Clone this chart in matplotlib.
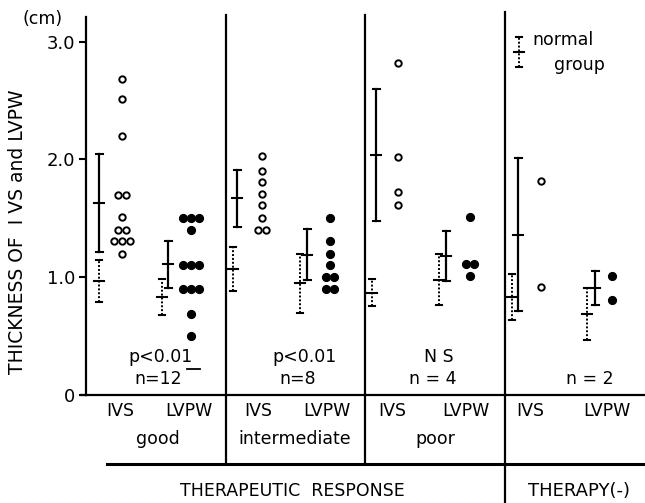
import numpy as np
import matplotlib
matplotlib.use("Agg")
from matplotlib import pyplot as plt

plt.rcParams['font.family'] = ['DejaVu Sans']

# individual patient values (cm)
good_ivs = [2.68, 2.51, 2.20, 1.70, 1.70, 1.51, 1.40, 1.40, 1.31, 1.31, 1.31, 1.20]
good_lvpw = [1.50, 1.50, 1.50, 1.40, 1.10, 1.10, 1.10, 0.90, 0.90, 0.90, 0.69, 0.50]
inter_ivs = [2.03, 1.90, 1.81, 1.71, 1.61, 1.50, 1.40, 1.40]
inter_lvpw = [1.50, 1.31, 1.20, 1.10, 1.00, 1.00, 0.90, 0.90]
poor_ivs = [2.82, 2.02, 1.72, 1.61]
poor_lvpw = [1.51, 1.11, 1.11, 1.01]
none_ivs = [1.82, 0.92]
none_lvpw = [1.01, 0.81]

# mean and SD, solid bars (patient group)
solid_mean = [1.63, 1.11, 1.67, 1.19, 2.04, 1.18, 1.36, 0.91]
solid_sd = [0.42, 0.20, 0.24, 0.215, 0.56, 0.215, 0.65, 0.145]
# mean and SD, dotted bars
dotted_mean = [0.97, 0.83, 1.07, 0.95, 0.87, 0.98, 0.835, 0.69]
dotted_sd = [0.18, 0.155, 0.19, 0.25, 0.115, 0.215, 0.195, 0.22]
normal_mean = 2.91
normal_sd = 0.125

groups = ['good', 'intermediate', 'poor', '']
p_text = ['p<0.01', 'p<0.01', 'N S', '']
n_text = ['n=12', 'n=8', 'n = 4', 'n = 2']

PX = 117.8  # pixels per cm on the reference


def yv(p):
    # vertical pixel of the reference -> value
    return (395 - p) / PX


fig = plt.figure(figsize=(6.45, 5.03), dpi=100)
ax = fig.add_axes([86 / 645, 108 / 503, 559 / 645, 378 / 503])
ax.set_xlim(86, 645)
ax.set_ylim(0, yv(17))
for s in ['top', 'right']:
    ax.spines[s].set_visible(False)
for s in ['left', 'bottom']:
    ax.spines[s].set_linewidth(1.6)
ax.set_xticks([])
ax.set_yticks([0, 1, 2, 3])
ax.set_yticklabels(['0', '1.0', '2.0', '3.0'], fontsize=13)
ax.tick_params(axis='y', length=5, width=1.5, pad=3)

# x positions (layout)
solid_x = [99, 168, 237, 307, 376, 446, 518, 595]
dotted_x = [99, 162, 233, 300, 372, 439, 512, 587]
pts_x = [122, 191, 262, 330, 398, 470, 541, 612]
points = [good_ivs, good_lvpw, inter_ivs, inter_lvpw, poor_ivs, poor_lvpw, none_ivs, none_lvpw]


def spread(vals, cx, step=7.7):
    xs = []
    vals = list(vals)
    for i, v in enumerate(vals):
        same = [j for j, w in enumerate(vals) if w == v]
        k = len(same)
        xs.append(cx + (same.index(i) - (k - 1) / 2) * step)
    return xs


def bar(x, m, sd, dotted=False):
    ls = (0, (1.0, 1.0)) if dotted else '-'
    lw = 1.4 if dotted else 1.6
    cap = 3 if dotted else 3.5
    ax.plot([x, x], [m - sd, m + sd], color='black', lw=lw, ls=ls, clip_on=False)
    for yy in (m - sd, m + sd):
        ax.plot([x - cap, x + cap], [yy, yy], color='black', lw=1.5, clip_on=False)
    ax.plot([x - 5, x + 5], [m, m], color='black', lw=1.5, clip_on=False)


for i in range(8):
    bar(dotted_x[i], dotted_mean[i], dotted_sd[i], dotted=True)
    bar(solid_x[i], solid_mean[i], solid_sd[i])
    xs = spread(points[i], pts_x[i])
    if i % 2 == 0:
        ax.plot(xs, points[i], 'o', ms=4.6, mfc='white', mec='black', mew=1.4,
                ls='none', clip_on=False)
    else:
        ax.plot(xs, points[i], 'o', ms=5.6, mfc='black', mec='black',
                ls='none', clip_on=False)

# normal group key
bar(519, normal_mean, normal_sd, dotted=True)
ax.text(532, 3.015, 'normal', fontsize=12.5, va='center', ha='left')
ax.text(554, 2.80, 'group', fontsize=12.5, va='center', ha='left')

# stray dash under p<0.01 in first panel
ax.plot([187, 200], [0.22, 0.22], color='black', lw=1.3)

# panel dividers
for x in [226, 365]:
    ax.plot([x, x], [yv(15), yv(463)], color='black', lw=1.6, clip_on=False)
ax.plot([505, 505], [yv(12), yv(503)], color='black', lw=1.6, clip_on=False)
ax.plot([107, 645], [yv(464), yv(464)], color='black', lw=2.2, clip_on=False)
ax.plot([81, 86], [0, 0], color='black', lw=1.6, clip_on=False)

# p / n annotations
p_x = [160, 305, 439]
n_x = [158, 298, 433, 590]
for i in range(3):
    ax.text(p_x[i], yv(357), p_text[i], fontsize=12.5, ha='center', va='center')
for i in range(4):
    ax.text(n_x[i], yv(379), n_text[i], fontsize=12.5, ha='center', va='center')

# category labels under the axis
ivs_x = [120, 258, 392, 530]
lvpw_x = [189, 327, 466, 607]
grp_x = [158, 295, 435]
for i in range(4):
    ax.text(ivs_x[i], yv(411), 'IVS', fontsize=12.5, ha='center', va='center')
    ax.text(lvpw_x[i], yv(411), 'LVPW', fontsize=12.5, ha='center', va='center')
for i in range(3):
    ax.text(grp_x[i], yv(439), groups[i], fontsize=12.5, ha='center', va='center')
ax.text(292, yv(491), 'THERAPEUTIC  RESPONSE', fontsize=12.5, ha='center', va='center')
ax.text(579, yv(491), 'THERAPY(-)', fontsize=13, ha='center', va='center')

fig.text(43 / 645, 1 - 19 / 503, '(cm)', fontsize=12.5, ha='center', va='center')
fig.text(18 / 645, 1 - 232 / 503, 'THICKNESS OF  I VS and LVPW', fontsize=13.5,
         rotation=90, ha='center', va='center')

fig.savefig('out.png', dpi=100)
